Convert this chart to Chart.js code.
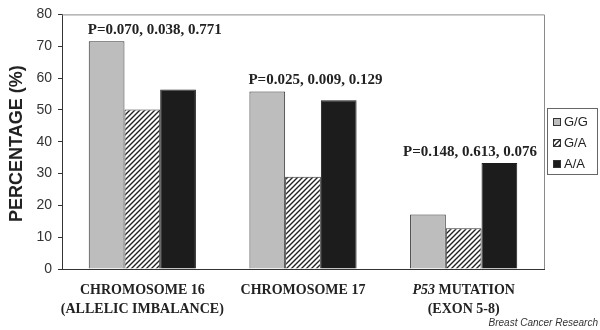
<!DOCTYPE html>
<html>
<head>
<meta charset="utf-8">
<script src="https://cdn.jsdelivr.net/npm/chart.js@4"></script>
<style>
  html, body { margin: 0; padding: 0; background: #fff; }
  #wrap { width: 600px; height: 330px; }
</style>
</head>
<body>
<div id="wrap"><canvas id="myChart" width="600" height="330"></canvas></div>
<script>
// data
var categories = ['CHROMOSOME 16', 'CHROMOSOME 17', 'P53 MUTATION'];
var categoryLines = [
  [['CHROMOSOME 16'], ['(ALLELIC IMBALANCE)']],
  [['CHROMOSOME 17'], []],
  [['P53', ' MUTATION'], ['(EXON 5-8)']]
];
var genotypes = ['G/G', 'G/A', 'A/A'];
var valuesGG = [71.6, 55.8, 17.1];
var valuesGA = [50.1, 29.0, 12.8];
var valuesAA = [56.4, 53.0, 33.3];
var pLabels = ['P=0.070, 0.038, 0.771', 'P=0.025, 0.009, 0.129', 'P=0.148, 0.613, 0.076'];
var yTicks = [0, 10, 20, 30, 40, 50, 60, 70, 80];

var serif = '"Liberation Serif", "DejaVu Serif", serif';
var sans = '"Liberation Sans", Arial, sans-serif';

// hatch pattern for G/A
function makeHatch() {
  var c = document.createElement('canvas');
  c.width = 5; c.height = 5;
  var g = c.getContext('2d');
  g.fillStyle = '#fff';
  g.fillRect(0, 0, 5, 5);
  g.strokeStyle = '#222';
  g.lineWidth = 1.4;
  g.beginPath();
  g.moveTo(-1, 6); g.lineTo(6, -1);
  g.moveTo(-1, 1); g.lineTo(1, -1);
  g.moveTo(4, 6); g.lineTo(6, 4);
  g.stroke();
  return g.createPattern(c, 'repeat');
}
var hatch = makeHatch();
var fills = ['#bdbdbd', hatch, '#1c1c1c'];

// frame, p-values, category labels, legend, credit
var extras = {
  id: 'extras',
  afterDraw: function(chart) {
    var ctx = chart.ctx;
    var a = chart.chartArea;
    var x = chart.scales.x, y = chart.scales.y;
    ctx.save();

    // grey frame top and right
    ctx.strokeStyle = '#8a8a8a';
    ctx.lineWidth = 1;
    ctx.beginPath();
    ctx.moveTo(a.left, a.top + 0.5);
    ctx.lineTo(a.right + 0.5, a.top + 0.5);
    ctx.lineTo(a.right + 0.5, a.bottom);
    ctx.stroke();

    // y title
    ctx.save();
    ctx.translate(17, (a.top + a.bottom) / 2 + 2);
    ctx.rotate(-Math.PI / 2);
    ctx.fillStyle = '#222';
    ctx.font = 'bold 18px ' + sans;
    ctx.textAlign = 'center';
    ctx.textBaseline = 'middle';
    ctx.fillText('PERCENTAGE (%)', 0, 0);
    ctx.restore();

    // p-values above each group
    ctx.font = 'bold 15px ' + serif;
    ctx.fillStyle = '#222';
    ctx.textBaseline = 'alphabetic';
    ctx.textAlign = 'left';
    var groupW = (a.right - a.left) / categories.length * 0.667;
    for (var i = 0; i < categories.length; i++) {
      var cx = x.getPixelForValue(i);
      var top = Math.max(valuesGG[i], valuesGA[i], valuesAA[i]);
      var ty = y.getPixelForValue(top) - 7;
      var w = ctx.measureText(pLabels[i]).width;
      var lx = cx - groupW / 2 - 1;
      if (lx + w > a.right - 7) lx = a.right - 7 - w;
      ctx.fillText(pLabels[i], lx, ty);
    }

    // category labels
    ctx.textBaseline = 'alphabetic';
    for (var i = 0; i < categoryLines.length; i++) {
      var cx = x.getPixelForValue(i);
      for (var l = 0; l < 2; l++) {
        var parts = categoryLines[i][l];
        if (!parts.length) continue;
        var total = 0, fonts = [];
        for (var p = 0; p < parts.length; p++) {
          fonts[p] = (parts[p] === 'P53' ? 'italic bold 14px ' : 'bold 14px ') + serif;
          ctx.font = fonts[p];
          total += ctx.measureText(parts[p]).width;
        }
        var sx = cx - total / 2;
        ctx.textAlign = 'left';
        for (var p = 0; p < parts.length; p++) {
          ctx.font = fonts[p];
          ctx.fillText(parts[p], sx, a.bottom + 25 + l * 19);
          sx += ctx.measureText(parts[p]).width;
        }
      }
    }

    // legend box
    var bx = 547, by = 108, bw = 50, bh = 66;
    ctx.fillStyle = '#fff';
    ctx.fillRect(bx, by, bw, bh);
    ctx.strokeStyle = '#666';
    ctx.strokeRect(bx + 0.5, by + 0.5, bw, bh);
    ctx.font = '13px ' + sans;
    ctx.textBaseline = 'middle';
    for (var k = 0; k < genotypes.length; k++) {
      var iy = by + 14 + k * 21;
      ctx.fillStyle = fills[k];
      ctx.fillRect(bx + 6, iy - 4, 8, 8);
      ctx.strokeStyle = '#333';
      ctx.strokeRect(bx + 6.5, iy - 3.5, 7, 7);
      ctx.fillStyle = '#222';
      ctx.fillText(genotypes[k], bx + 17, iy);
    }

    // credit
    ctx.font = 'italic 10px ' + sans;
    ctx.fillStyle = '#333';
    ctx.textAlign = 'right';
    ctx.textBaseline = 'alphabetic';
    ctx.fillText('Breast Cancer Research', 598, 326);

    ctx.restore();
  }
};

var ctx = document.getElementById('myChart').getContext('2d');
var chart = new Chart(ctx, {
  type: 'bar',
  data: {
    labels: categories,
    datasets: [
      { label: genotypes[0], data: valuesGG, backgroundColor: fills[0], borderColor: '#333', borderWidth: 1 },
      { label: genotypes[1], data: valuesGA, backgroundColor: fills[1], borderColor: '#333', borderWidth: 1 },
      { label: genotypes[2], data: valuesAA, backgroundColor: fills[2], borderColor: '#1c1c1c', borderWidth: 1 }
    ]
  },
  options: {
    responsive: false,
    animation: false,
    events: [],
    layout: { padding: { top: 12, right: 56, left: 0, bottom: 0 } },
    datasets: { bar: { categoryPercentage: 0.667, barPercentage: 1 } },
    plugins: {
      legend: { display: false },
      tooltip: { enabled: false }
    },
    scales: {
      x: {
        grid: { display: false },
        border: { display: true, color: '#333', width: 1 },
        ticks: { display: false },
        afterFit: function(s) { s.height = 61; }
      },
      y: {
        min: 0,
        max: 80,
        afterBuildTicks: function(s) { s.ticks = yTicks.map(function(v) { return { value: v }; }); },
        grid: { drawOnChartArea: false, tickLength: 4, color: '#333' },
        border: { display: true, color: '#333', width: 1 },
        ticks: { font: { family: sans, size: 14 }, color: '#333', padding: 6 },
        afterFit: function(s) { s.width = 62; }
      }
    }
  },
  plugins: [extras]
});
</script>
</body>
</html>
